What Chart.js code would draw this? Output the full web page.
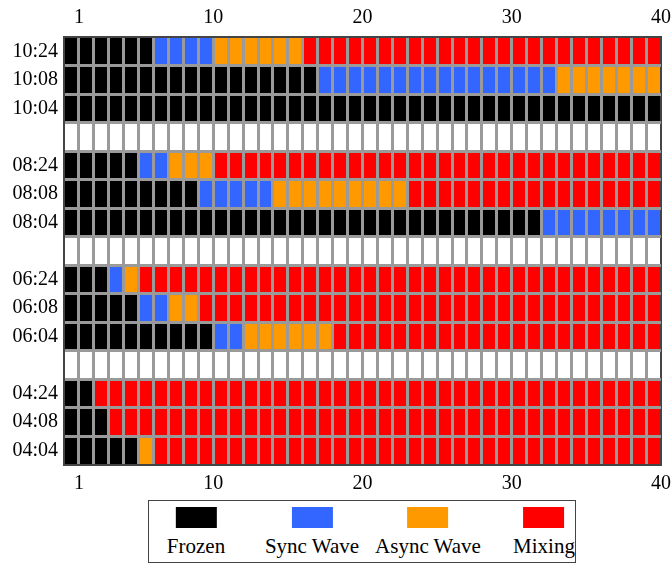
<!DOCTYPE html>
<html>
<head>
<meta charset="utf-8">
<script src="https://cdn.jsdelivr.net/npm/chart.js@4.4.0/dist/chart.umd.min.js"></script>
<style>
  html, body { margin: 0; padding: 0; background: #fff; }
  body { width: 672px; height: 564px; position: relative; overflow: hidden; font-family: "Liberation Serif", "DejaVu Serif", serif; }
  #wrap { position: absolute; left: 0; top: 0; width: 672px; height: 500px; }
  #legend { position: absolute; left: 148px; top: 500px; width: 426px; height: 61px; border: 1.5px solid #444; }
  .item { position: absolute; top: 0; transform: translateX(-50%); white-space: nowrap; text-align: center; }
  .swatch { width: 41px; height: 21px; margin: 6px auto 0; }
  .label { font-size: 21px; line-height: 24px; margin-top: 6px; color: #000; }
</style>
</head>
<body>
<div id="wrap"><canvas id="grid"></canvas></div>
<div id="legend"></div>
<script>
// rows from top to bottom, blank rows are separators
const rowLabels = ['10:24', '10:08', '10:04', '', '08:24', '08:08', '08:04', '', '06:24', '06:08', '06:04', '', '04:24', '04:08', '04:04'];
const tickLabels = [1, 10, 20, 30, 40];

// number of cells in each state per row (order is always Frozen -> Sync -> Async -> Mixing)
const frozen    = [6, 17, 40, 0, 5, 9, 32, 0, 3, 5, 10, 0, 2, 3, 5];
const syncWave  = [4, 16, 0, 0, 2, 5, 8, 0, 1, 2, 2, 0, 0, 0, 0];
const asyncWave = [6, 7, 0, 0, 3, 9, 0, 0, 1, 2, 6, 0, 0, 0, 1];
const mixing    = [24, 0, 0, 0, 30, 17, 0, 0, 35, 31, 22, 0, 38, 37, 34];

const stateNames = ['Frozen', 'Sync Wave', 'Async Wave', 'Mixing'];
const stateColors = ['#000000', '#3366ff', '#ff9900', '#ff0000'];

const gray = '#9a9a9a';
const dark = '#444444';
const fontFamily = '"Liberation Serif", "DejaVu Serif", serif';

const series = [frozen, syncWave, asyncWave, mixing];

const xEdge = ctx => ctx.tick && (ctx.tick.value === 0 || ctx.tick.value === 40);
const yEdge = ctx => ctx.type !== 'tick' || ctx.index === 0;

const xTicks = {
    stepSize: 1,
    autoSkip: false,
    maxRotation: 0,
    padding: 7,
    color: '#000',
    font: { family: fontFamily, size: 20 },
    callback: v => tickLabels.includes(v) ? String(v) : ''
};

// fixed axis sizes, no extra room for the end labels
const fitX = h => s => { s.height = h; s.paddingLeft = 0; s.paddingRight = 0; };

new Chart(document.getElementById('grid'), {
    type: 'bar',
    data: {
        labels: rowLabels,
        datasets: stateNames.map((name, i) => ({
            label: name,
            data: series[i],
            backgroundColor: stateColors[i],
            borderWidth: 0,
            barPercentage: 1,
            categoryPercentage: 1,
            xAxisID: 'x',
            yAxisID: 'y'
        }))
    },
    options: {
        indexAxis: 'y',
        responsive: true,
        maintainAspectRatio: false,
        animation: false,
        layout: { padding: { left: 0, right: 11, top: 0, bottom: 0 } },
        plugins: {
            legend: { display: false },
            tooltip: { enabled: false }
        },
        scales: {
            x: {
                type: 'linear',
                position: 'bottom',
                stacked: true,
                min: 0,
                max: 40,
                ticks: xTicks,
                grid: {
                    color: ctx => xEdge(ctx) ? dark : gray,
                    lineWidth: ctx => xEdge(ctx) ? 2 : 3,
                    drawTicks: false,
                    z: 1
                },
                border: { display: true, color: dark, width: 2, z: 2 },
                afterFit: fitX(35)
            },
            x2: {
                type: 'linear',
                position: 'top',
                min: 0,
                max: 40,
                ticks: xTicks,
                grid: { display: false, drawTicks: false },
                border: { display: true, color: dark, width: 2, z: 2 },
                afterFit: fitX(37)
            },
            y: {
                type: 'category',
                stacked: true,
                ticks: {
                    padding: 6,
                    color: '#000',
                    font: { family: fontFamily, size: 20 }
                },
                grid: {
                    offset: true,
                    drawTicks: false,
                    color: ctx => yEdge(ctx) ? dark : gray,
                    lineWidth: ctx => yEdge(ctx) ? 2 : 3,
                    z: 1
                },
                border: { display: true, color: dark, width: 2, z: 2 },
                afterFit: s => { s.width = 64; }
            }
        }
    }
});

// legend: swatch above label, built from the same names/colours
const legend = document.getElementById('legend');
stateNames.forEach((name, i) => {
    const item = document.createElement('div');
    item.className = 'item';
    item.style.left = (47 + i * 116) + 'px';
    item.innerHTML = `<div class="swatch" style="background:${stateColors[i]}"></div><div class="label">${name}</div>`;
    legend.appendChild(item);
});
</script>
</body>
</html>
